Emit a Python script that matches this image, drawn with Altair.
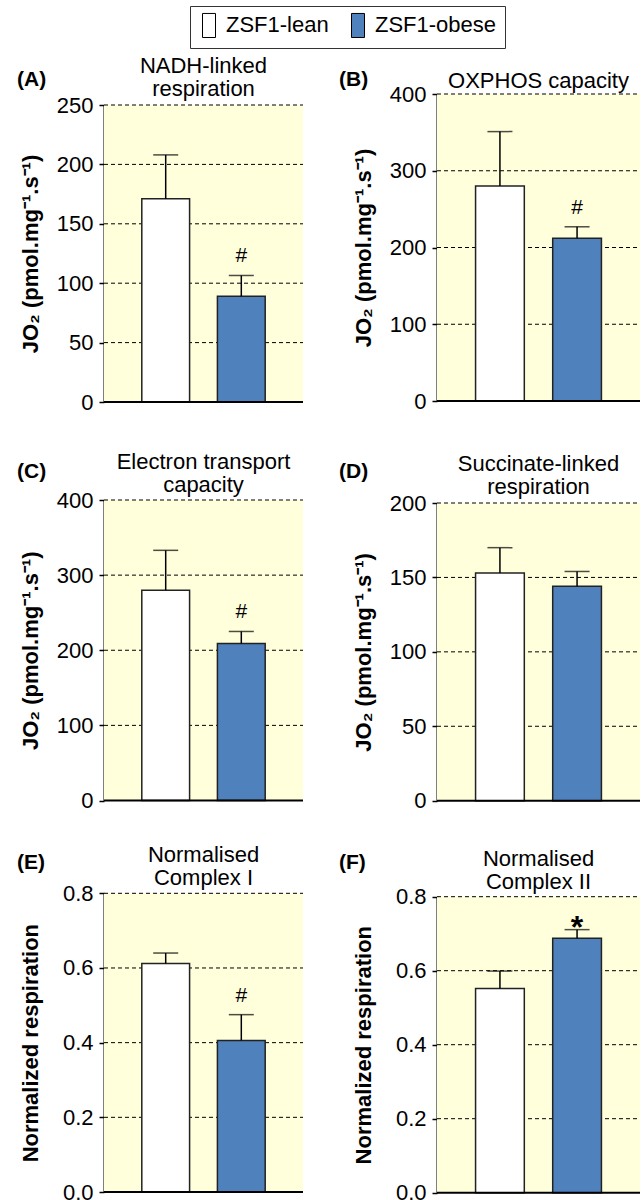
import altair as alt
import pandas as pd

# ---------------- data ----------------
panel_ids = ["(A)", "(B)", "(C)", "(D)", "(E)", "(F)"]
panel_titles = [
    "NADH-linked\nrespiration",
    "OXPHOS capacity",
    "Electron transport\ncapacity",
    "Succinate-linked\nrespiration",
    "Normalised\nComplex I",
    "Normalised\nComplex II",
]
y_titles = ["JO₂ (pmol.mg⁻¹.s⁻¹)"] * 4 + ["Normalized respiration"] * 2
groups = ["ZSF1-lean", "ZSF1-obese"]
lean_mean = [171, 280, 280, 153, 0.612, 0.552]
lean_sem = [37, 71, 53, 17, 0.028, 0.047]
obese_mean = [89, 212, 209, 144, 0.406, 0.688]
obese_sem = [17.5, 15, 16, 10, 0.069, 0.023]
obese_mark = ["#", "#", "#", "", "#", "*"]
y_max = [250, 400, 400, 200, 0.8, 0.8]
y_step = [50, 100, 100, 50, 0.2, 0.2]
y_format = ["d", "d", "d", "d", ".1f", ".1f"]

# ---------------- layout (pixels) ----------------
col_w = [199, 203]
row_h = [308, 309, 302]
plot_top = [11, 0, 8, 11, 2.3, 5.7]
plot_bot = [308, 307, 308.5, 308.7, 301, 301.7]
title_y = [-21, -6, -23, -21, -29, -25]
tag_y = [-8, -8, -14, -14, -22, -22]
tag_x = [-87, -98]

FONT = "Liberation Sans"
BG = "#FFFFDC"
BLUE = "#4F81BD"
FS = 22

legend = alt.Legend(
    title=None, orient="none", legendX=86, legendY=-88, direction="horizontal",
    symbolType="M-1,-1.85L1,-1.85L1,1.85L-1,1.85Z", symbolSize=169,
    symbolStrokeColor="black", symbolStrokeWidth=1,
    labelFont=FONT, labelFontSize=22, labelColor="black", labelOffset=6,
    columnPadding=18, padding=8, strokeColor="#333", fillColor="white",
)


def panel(i):
    col, row = i % 2, i // 2
    W, H = col_w[col], row_h[row]
    n_ticks = int(round(y_max[i] / y_step[i]))
    ticks = [round(k * y_step[i], 4) for k in range(n_ticks + 1)]

    df = pd.DataFrame({
        "group": groups,
        "mean": [lean_mean[i], obese_mean[i]],
        "sem": [lean_sem[i], obese_sem[i]],
        "mark": ["", obese_mark[i]],
    })
    df["top"] = df["mean"] + df["sem"]

    yscale = alt.Scale(domain=[0, y_max[i]], range=[plot_bot[i], plot_top[i]], nice=False)
    yaxis = alt.Axis(
        values=ticks, format=y_format[i], grid=False,
        domainColor="black", domainWidth=2, tickColor="black", tickWidth=1.5, tickSize=5,
        labelFont=FONT, labelFontSize=FS, labelColor="black", labelPadding=6,
        title=y_titles[i], titleFont=FONT, titleFontSize=FS, titleFontWeight="bold",
        titleColor="black", titleX=-62, titleY=(plot_top[i] + plot_bot[i]) / 2,
        titleBaseline="bottom", titleAngle=270,
    )
    xenc = alt.X("group:N", scale=alt.Scale(domain=groups, paddingInner=0.368, paddingOuter=0.5), axis=None)

    bg = alt.Chart(pd.DataFrame({"lo": [0], "hi": [y_max[i]]})).mark_rect(color=BG).encode(
        y=alt.Y("lo:Q", scale=yscale, axis=yaxis), y2="hi:Q",
        x=alt.value(0), x2=alt.value(W),
    )
    grid = alt.Chart(pd.DataFrame({"v": ticks[1:]})).mark_rule(
        color="black", strokeDash=[4, 3], strokeWidth=1
    ).encode(y=alt.Y("v:Q", scale=yscale, axis=yaxis), x=alt.value(0), x2=alt.value(W))

    base = alt.Chart(df)
    err = base.mark_rule(color="black", strokeWidth=1.5).encode(
        x=xenc, y=alt.Y("mean:Q", scale=yscale, axis=yaxis), y2="top:Q")
    cap = base.mark_tick(orient="horizontal", size=25, thickness=1.5, color="black").encode(
        x=xenc, y=alt.Y("top:Q", scale=yscale, axis=yaxis))
    bars = base.mark_bar(stroke="#222", strokeWidth=1.5).encode(
        x=xenc, y=alt.Y("mean:Q", scale=yscale, axis=yaxis),
        color=alt.Color("group:N", scale=alt.Scale(domain=groups, range=["white", BLUE]), legend=legend),
    )
    hash_txt = base.transform_filter(alt.datum.mark == "#").mark_text(
        font=FONT, fontSize=21, color="black", baseline="alphabetic", dy=-13
    ).encode(x=xenc, y=alt.Y("top:Q", scale=yscale, axis=yaxis), text="mark:N")
    star_txt = base.transform_filter(alt.datum.mark == "*").mark_text(
        font=FONT, fontSize=32, fontWeight="bold", color="black", baseline="alphabetic", dy=8
    ).encode(x=xenc, y=alt.Y("top:Q", scale=yscale, axis=yaxis), text="mark:N")

    zero_line = alt.Chart(pd.DataFrame({"z": [0]})).mark_rule(color="black", strokeWidth=2).encode(
        y=alt.Y("z:Q", scale=yscale, axis=yaxis), x=alt.value(0), x2=alt.value(W))

    title = alt.Chart(pd.DataFrame({"t": [panel_titles[i]]})).mark_text(
        font=FONT, fontSize=FS, color="black", align="center", baseline="alphabetic",
        lineBreak="\n", lineHeight=23,
    ).encode(text="t:N", x=alt.value(W / 2), y=alt.value(title_y[i]))
    tag = alt.Chart(pd.DataFrame({"t": [panel_ids[i]]})).mark_text(
        font=FONT, fontSize=FS - 1, fontWeight="bold", color="black", align="left", baseline="alphabetic",
    ).encode(text="t:N", x=alt.value(tag_x[col]), y=alt.value(tag_y[i]))

    return alt.layer(bg, grid, bars, err, cap, zero_line, hash_txt, star_txt, title, tag).properties(
        width=W, height=H)


chart = alt.concat(
    *[panel(i) for i in range(6)], columns=2, spacing={"row": 90, "column": 134}, bounds="flush"
).resolve_scale(
    x="independent", y="independent", color="shared"
).properties(
    padding={"left": 17, "top": 5, "right": 0, "bottom": 0}
).configure(font=FONT).configure_view(stroke=None)

chart.save("out.html", embed_options={"renderer": "svg", "actions": False})
